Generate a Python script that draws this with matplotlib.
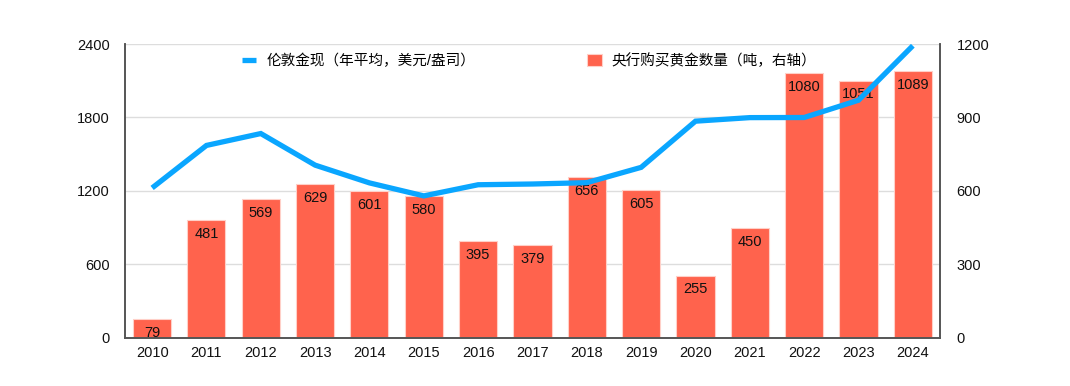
import matplotlib
matplotlib.use("Agg")
import matplotlib.pyplot as plt
import numpy as np

plt.rcParams['font.family'] = ['Liberation Sans', 'Noto Sans CJK SC', 'DejaVu Sans']

years = ["2010", "2011", "2012", "2013", "2014", "2015", "2016", "2017",
         "2018", "2019", "2020", "2021", "2022", "2023", "2024"]
gold_price = [1225, 1572, 1669, 1411, 1266, 1160, 1251, 1257,
              1268, 1393, 1770, 1799, 1800, 1941, 2386]
cb_purchases = [79, 481, 569, 629, 601, 580, 395, 379,
                656, 605, 255, 450, 1080, 1051, 1089]
left_ticks = [0, 600, 1200, 1800, 2400]
right_ticks = [0, 300, 600, 900, 1200]

line_label = "伦敦金现（年平均，美元/盎司）"
bar_label = "央行购买黄金数量（吨，右轴）"

bar_color = "#FF634D"
line_color = "#0AA6FF"
spine_color = "#555555"

fig = plt.figure(figsize=(10.7, 3.86), dpi=100)
ax = fig.add_axes([0.1168, 0.1244, 0.7617, 0.7616])
ax2 = ax.twinx()

x = np.arange(len(years))
bars = ax2.bar(x, cb_purchases, width=0.7, color=bar_color,
               edgecolor="#FFD0C8", linewidth=0.8, label=bar_label, zorder=2)
for xi, v in zip(x, cb_purchases):
    ax2.annotate(str(v), (xi, v), xytext=(0, -5), textcoords="offset points",
                 ha="center", va="top", fontsize=10.5, color="#111111", zorder=3)

ln, = ax.plot(x, gold_price, color=line_color, linewidth=3.8,
              solid_joinstyle="miter", solid_capstyle="butt", label=line_label, zorder=4)

ax.set_zorder(ax2.get_zorder() + 1)
ax.patch.set_visible(False)

ax.set_xlim(-0.5, len(years) - 0.5)
ax.set_ylim(0, 2400)
ax2.set_ylim(0, 1200)
ax.set_yticks(left_ticks)
ax2.set_yticks(right_ticks)
ax.set_xticks(x)
ax.set_xticklabels(years)

ax2.grid(axis="y", color="#DDDDDD", linewidth=1.0, zorder=0)
ax2.set_axisbelow(True)

for a in (ax, ax2):
    a.tick_params(axis="both", length=0, labelsize=10.5, colors="#111111")
    a.spines["top"].set_visible(False)
    for s in ("left", "right", "bottom"):
        a.spines[s].set_color(spine_color)
        a.spines[s].set_linewidth(1.2)
ax.tick_params(axis="y", pad=11)
ax2.tick_params(axis="y", pad=12)
ax.tick_params(axis="x", pad=6)

fig.legend(handles=[ln, bars], labels=[line_label, bar_label],
           loc="center", bbox_to_anchor=(0.4945, 0.842), ncol=2, frameon=False,
           fontsize=10.5, handlelength=1.0, handleheight=0.9,
           columnspacing=7.65, handletextpad=0.7)

fig.savefig("out.png", dpi=100)
